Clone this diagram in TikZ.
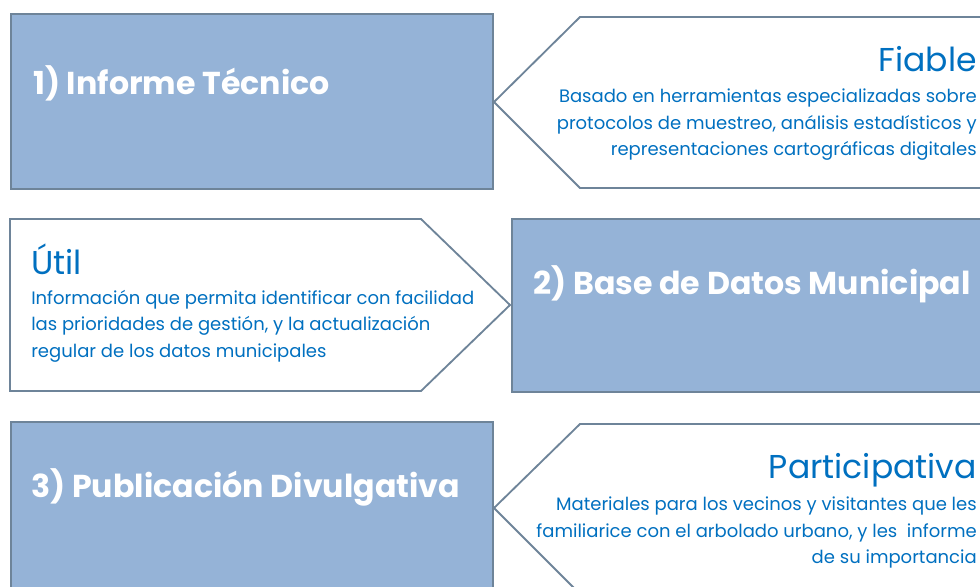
\documentclass[tikz,border=0pt]{standalone}
\usepackage{fontspec}
\setmainfont{Poppins}
\usetikzlibrary{positioning}

\definecolor{boxfill}{HTML}{95B3D7}
\definecolor{boxline}{HTML}{6E8499}
\definecolor{txtblue}{HTML}{0070C0}

\tikzset{
  bluebox/.style={draw=boxline, fill=boxfill, line width=1.3pt},
  whitebox/.style={draw=boxline, fill=white, line width=1.3pt},
  titletext/.style={text=white, font=\bfseries\fontsize{22.5}{26}\selectfont, anchor=base west, inner sep=0pt},
  headtext/.style={text=txtblue, font=\fontsize{23.5}{27}\selectfont, inner sep=0pt},
  bodytext/.style={text=txtblue, font=\fontsize{12.8}{18.8}\selectfont, inner sep=0pt}
}

\begin{document}
\begin{tikzpicture}[x=0.025cm,y=-0.025cm]

\clip (0,0) rectangle (980,586);
\fill[white] (0,0) rectangle (980,586);

% fila 1
\draw[bluebox] (11,14) rectangle (493,189);
\draw[whitebox] (1010,17) -- (580,17) -- (494,102) -- (580,188) -- (1010,188);
\node[titletext] (tecnico) at (33,94) {1) Informe Técnico};
\node[headtext, anchor=base east] (fiable) at (977,71) {Fiable};
\node[bodytext, anchor=north east, align=right] (fiabletxt) at (977,89)
  {Basado en herramientas especializadas sobre\\
   protocolos de muestreo, análisis estadísticos y\\
   representaciones cartográficas digitales};

% fila 2
\draw[whitebox] (10,219) -- (421,219) -- (510,305) -- (421,391) -- (10,391) -- cycle;
\draw[bluebox] (512,219) rectangle (1010,392);
\node[headtext, anchor=base west] (util) at (31,274) {Útil};
\node[bodytext, anchor=north west, align=left] (utiltxt) at (31,290)
  {Información que permita identificar con facilidad\\
   las prioridades de gestión, y la actualización\\
   regular de los datos municipales};
\node[titletext] (base) at (533,294) {2) Base de Datos Municipal};

% fila 3
\draw[bluebox] (11,422) rectangle (493,620);
\draw[whitebox] (1010,424) -- (580,424) -- (494,508) -- (580,594) -- (1010,594);
\node[titletext] (publicacion) at (31,497) {3) Publicación Divulgativa};
\node[headtext, anchor=base east] (particip) at (977,478) {Participativa};
\node[bodytext, anchor=north east, align=right] (participtxt) at (977,497)
  {Materiales para los vecinos y visitantes que les\\
   familiarice con el arbolado urbano, y les \ informe\\
   de su importancia};

\end{tikzpicture}
\end{document}
